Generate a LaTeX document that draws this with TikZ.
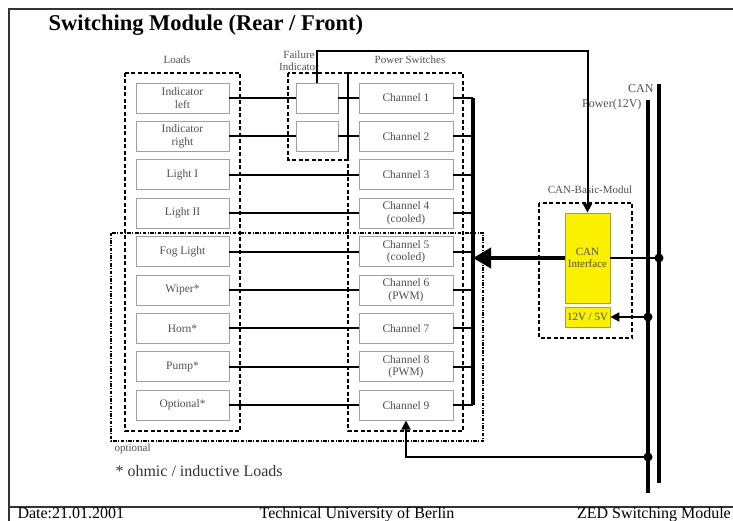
\documentclass[tikz,border=0pt]{standalone}
\usepackage{fontspec}
\setmainfont{Liberation Serif}
\usetikzlibrary{arrows.meta}

\definecolor{boxgray}{RGB}{160,160,160}
\definecolor{txtgray}{RGB}{80,80,80}
\definecolor{canyellow}{RGB}{250,240,0}
\definecolor{canedge}{RGB}{170,160,40}

\begin{document}
\begin{tikzpicture}[x=1pt,y=-1pt,
  unit/.style={draw=boxgray,line width=.8pt,text=txtgray,inner sep=1pt,
    minimum width=93pt,minimum height=30pt,align=center,
    font=\fontsize{11.5}{12.5}\selectfont},
  flag/.style={draw=boxgray,line width=.8pt,minimum width=42pt,minimum height=30pt},
  canbox/.style={draw=canedge,fill=canyellow,line width=.8pt,text=black!70,
    minimum width=45pt,align=center,inner sep=1pt,font=\fontsize{11}{12}\selectfont},
  group/.style={dashed,line width=1.4pt,dash pattern=on 4pt off 2.5pt},
  wire/.style={line width=2pt},
  bus/.style={line width=4pt},
  dot/.style={circle,fill,inner sep=0pt,minimum size=9pt},
  lbl/.style={text=txtgray,font=\fontsize{11}{12}\selectfont,align=center},
  foot/.style={anchor=base,font=\fontsize{16}{18}\selectfont}]
  \useasboundingbox (0,0) rectangle (733,521);

  % frame and footer
  \draw[line width=1.5pt,black!80] (9,521) -- (9,9) -- (733,9);
  \draw[line width=1.5pt,black!80] (9,507) -- (733,507);
  \node[foot,anchor=base west] (date) at (14,518) {Date:21.01.2001};
  \node[foot] (uni) at (357,518) {Technical University of Berlin};
  \node[foot,anchor=base east,inner sep=1pt] (zed) at (732,518) {ZED Switching Module};

  \node[anchor=west,font=\bfseries\fontsize{22.5}{24}\selectfont] (title) at (45,25)
    {Switching Module (Rear / Front)};

  % groups
  \draw[group] (125,73) rectangle (240,431);
  \draw[group] (288,73) rectangle (348,160);
  \draw[group] (348,73) rectangle (463,431);
  \draw[group] (539,203) rectangle (632,338);
  \draw[line width=1.2pt,dash pattern=on 3.5pt off 1.5pt on 1pt off 1.5pt]
    (111,233) rectangle (483,441);

  \node[lbl] (loadslbl) at (177,60) {Loads};
  \node[lbl] (faillbl) at (299,61) {Failure\\Indicator};
  \node[lbl] (pslbl) at (410,60) {Power Switches};
  \node[lbl] (cbmlbl) at (590,190) {CAN-Basic-Modul};
  \node[lbl,anchor=west] (optlbl) at (111,449) {optional};
  \node[anchor=west,font=\fontsize{16}{18}\selectfont,text=black!80] (note) at (112,471)
    {* ohmic / inductive Loads};

  % loads and channels
  \foreach \i/\ld/\ch in {1/{Indicator\\left}/{Channel 1},
      2/{Indicator\\right}/{Channel 2},
      3/{Light I}/{Channel 3},
      4/{Light II}/{Channel 4\\(cooled)},
      5/{Fog Light}/{Channel 5\\(cooled)},
      6/{Wiper*}/{Channel 6\\(PWM)},
      7/{Horn*}/{Channel 7},
      8/{Pump*}/{Channel 8\\(PWM)},
      9/{Optional*}/{Channel 9}} {
    \node[unit] (ld\i) at (182.5,{98+38.4*(\i-1)}) {\ld};
    \node[unit,minimum width=94pt] (ch\i) at (406,{98+38.4*(\i-1)}) {\ch};
  }
  \node[flag] (fi1) at (317,98) {};
  \node[flag] (fi2) at (317,136.4) {};

  \foreach \i in {1,2} {
    \draw[wire] (ld\i) -- (fi\i);
    \draw[wire] (fi\i) -- (ch\i);
  }
  \foreach \i in {3,...,9}
    \draw[wire] (ld\i) -- (ch\i);

  % output bus
  \coordinate (busx) at (473,0);
  \foreach \i in {1,...,9}
    \draw[wire] (ch\i) -- (ch\i -| busx);
  \draw[bus] (ch1 -| busx) -- (ch9 -| busx);

  % CAN basic module
  \node[canbox,minimum height=90pt] (can) at (587.5,258) {CAN\\Interface};
  \node[canbox,minimum height=20pt] (vreg) at (587.5,317) {12V / 5V};

  \coordinate (cantop) at (659,84);
  \coordinate (canbot) at (659,483);
  \coordinate (pwrtop) at (648,100);
  \coordinate (pwrbot) at (648,493);
  \draw[bus] (cantop) -- (canbot);
  \draw[bus] (pwrtop) -- (pwrbot);
  \node[lbl,anchor=east,font=\fontsize{12}{13}\selectfont] (canlbl) at (657,89) {CAN};
  \node[lbl,anchor=east,font=\fontsize{12}{13}\selectfont] (pwrlbl) at (645,105) {Power(12V)};

  \draw[bus,-{Triangle[length=18pt,width=20pt]}] (can) -- (can -| busx);
  \draw[wire] (can) -- (can -| cantop) node[dot] (candot) {};
  \draw[wire,{Triangle[length=9pt,width=9pt]}-] (vreg) -- (vreg -| pwrtop) node[dot] (pwrdot) {};

  \coordinate (fbk) at (648,457);
  \node[dot] (fbkdot) at (fbk) {};
  \draw[wire,-{Triangle[length=9pt,width=9pt]}] (fbk) -| (ch9.south);

  \coordinate (fitop) at (0,51);
  \draw[wire,-{Triangle[length=9pt,width=9pt]}] (fi1.north) -- (fi1.north |- fitop) -| (can.north);
\end{tikzpicture}
\end{document}
